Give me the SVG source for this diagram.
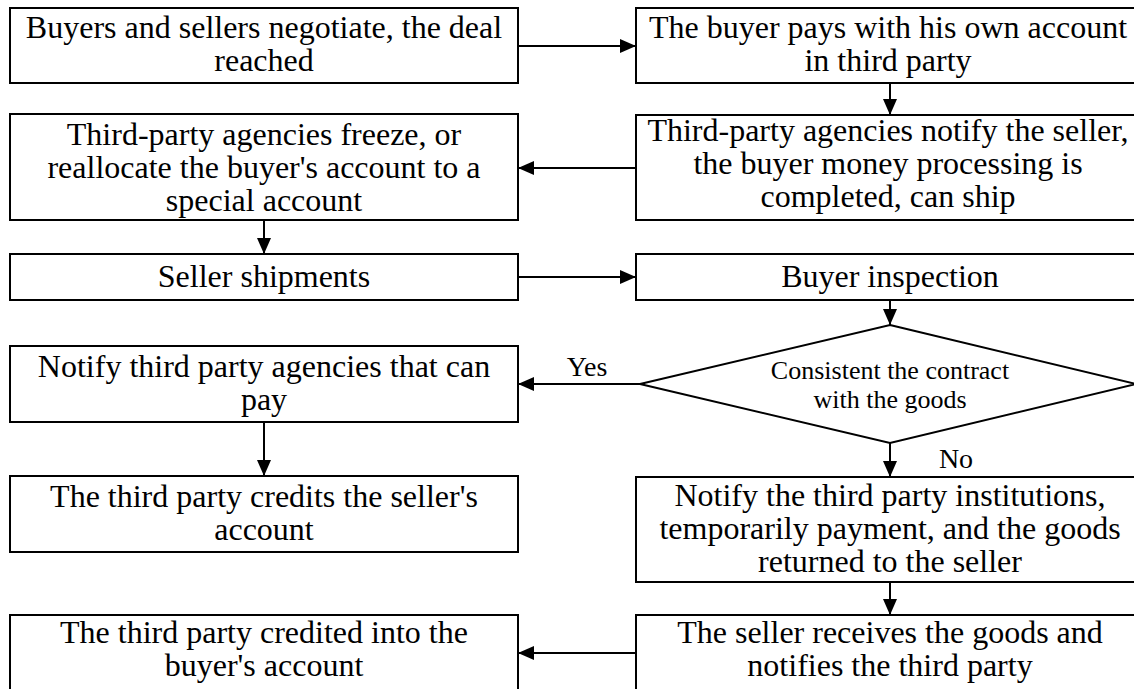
<svg xmlns="http://www.w3.org/2000/svg" width="1134" height="689" viewBox="0 0 1134 689" font-family="'Liberation Serif', Tinos, 'Times New Roman', 'DejaVu Serif', serif">
<style>
.box{fill:#fff;stroke:#000;stroke-width:2}
.t{font-family:'Liberation Serif', Tinos, 'Times New Roman', serif;font-size:32px;fill:#000;text-anchor:middle}
.d{font-family:'Liberation Serif', Tinos, 'Times New Roman', serif;font-size:26px;fill:#000;text-anchor:middle}
.lbl{font-family:'Liberation Serif', Tinos, 'Times New Roman', serif;font-size:28px;fill:#000;text-anchor:middle}
.c{stroke:#000;stroke-width:2;fill:none;marker-end:url(#ah)}
</style>
<defs>
<marker id="ah" markerUnits="userSpaceOnUse" markerWidth="16" markerHeight="14" refX="16" refY="7" orient="auto">
<path d="M0,0 L16,7 L0,14 z" fill="#000"/>
</marker>
</defs>
<rect width="1134" height="689" fill="#fff"/>
<g id="connectors">
<line class="c" x1="518" y1="46" x2="636" y2="46"/>
<line class="c" x1="890" y1="83" x2="890" y2="115"/>
<line class="c" x1="636" y1="168" x2="518" y2="168"/>
<line class="c" x1="264" y1="220" x2="264" y2="254"/>
<line class="c" x1="518" y1="277" x2="636" y2="277"/>
<line class="c" x1="890" y1="300" x2="890" y2="325"/>
<line class="c" x1="640" y1="384" x2="518" y2="384"/>
<line class="c" x1="264" y1="422" x2="264" y2="476"/>
<line class="c" x1="890" y1="443" x2="890" y2="477"/>
<line class="c" x1="890" y1="582" x2="890" y2="615"/>
<line class="c" x1="636" y1="653" x2="518" y2="653"/>
<text class="lbl" x="587" y="376">Yes</text>
<text class="lbl" x="956" y="468">No</text>
</g>
<g id="n1"><rect class="box" x="10" y="8" width="508" height="75"/>
<text class="t" x="264" y="38">Buyers and sellers negotiate, the deal</text>
<text class="t" x="264" y="71">reached</text></g>
<g id="n2"><rect class="box" x="636" y="8" width="508" height="75"/>
<text class="t" x="888" y="38">The buyer pays with his own account</text>
<text class="t" x="888" y="71">in third party</text></g>
<g id="n3"><rect class="box" x="636" y="115" width="508" height="105"/>
<text class="t" x="888" y="141">Third-party agencies notify the seller,</text>
<text class="t" x="888" y="174">the buyer money processing is</text>
<text class="t" x="888" y="207">completed, can ship</text></g>
<g id="n4"><rect class="box" x="10" y="114" width="508" height="106"/>
<text class="t" x="264" y="145">Third-party agencies freeze, or</text>
<text class="t" x="264" y="178">reallocate the buyer's account to a</text>
<text class="t" x="264" y="211">special account</text></g>
<g id="n5"><rect class="box" x="10" y="254" width="508" height="46"/>
<text class="t" x="264" y="287">Seller shipments</text></g>
<g id="n6"><rect class="box" x="636" y="254" width="508" height="46"/>
<text class="t" x="890" y="287">Buyer inspection</text></g>
<g id="n7"><polygon class="box" points="890,325 1136,384 890,443 640,384"/>
<text class="d" x="890" y="379">Consistent the contract</text>
<text class="d" x="890" y="408">with the goods</text></g>
<g id="n8"><rect class="box" x="10" y="346" width="508" height="76"/>
<text class="t" x="264" y="377">Notify third party agencies that can</text>
<text class="t" x="264" y="410">pay</text></g>
<g id="n9"><rect class="box" x="10" y="476" width="508" height="76"/>
<text class="t" x="264" y="507">The third party credits the seller's</text>
<text class="t" x="264" y="540">account</text></g>
<g id="n10"><rect class="box" x="636" y="477" width="508" height="105"/>
<text class="t" x="890" y="506">Notify the third party institutions,</text>
<text class="t" x="890" y="539">temporarily payment, and the goods</text>
<text class="t" x="890" y="572">returned to the seller</text></g>
<g id="n11"><rect class="box" x="636" y="615" width="508" height="90"/>
<text class="t" x="890" y="643">The seller receives the goods and</text>
<text class="t" x="890" y="676">notifies the third party</text></g>
<g id="n12"><rect class="box" x="10" y="615" width="508" height="90"/>
<text class="t" x="264" y="643">The third party credited into the</text>
<text class="t" x="264" y="676">buyer's account</text></g>
</svg>
